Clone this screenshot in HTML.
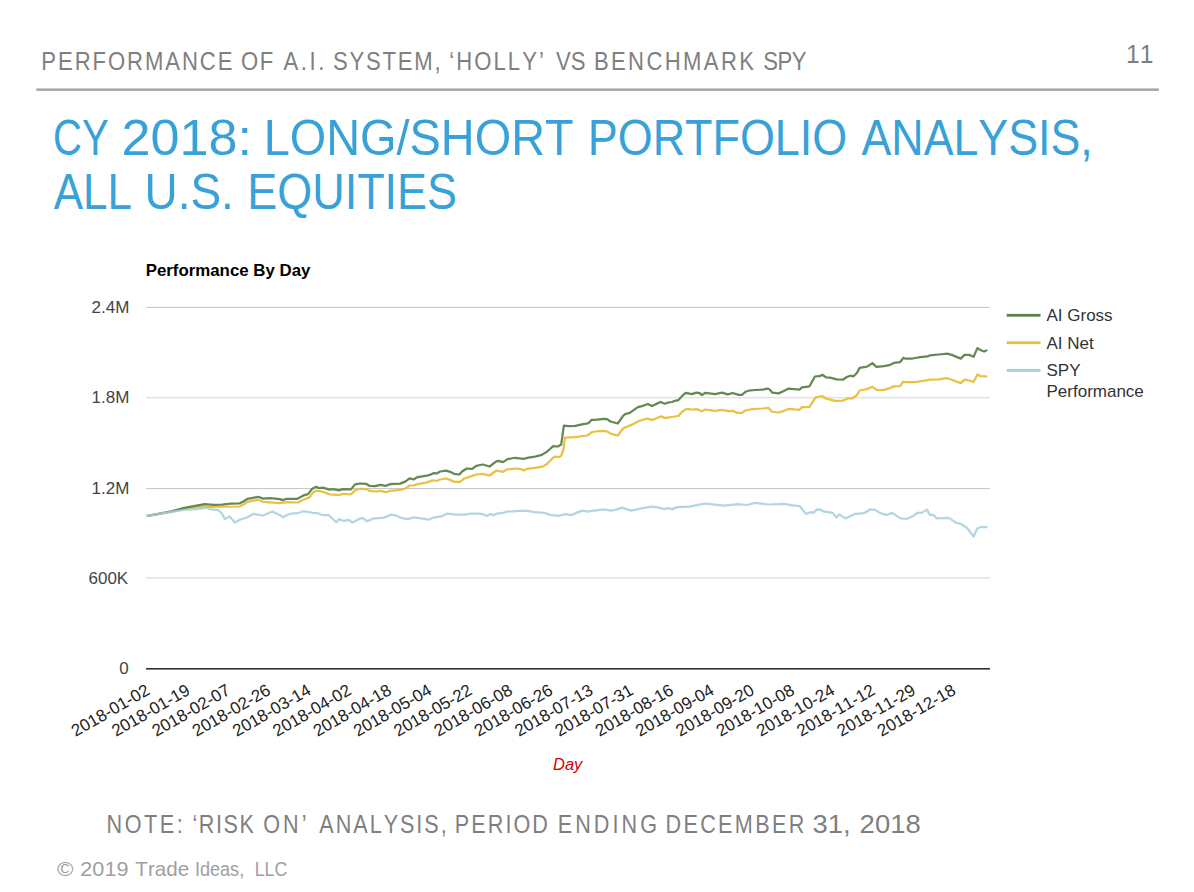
<!DOCTYPE html>
<html><head><meta charset="utf-8"><style>
html,body{margin:0;padding:0;background:#fff;width:1194px;height:892px;overflow:hidden}
svg{display:block;font-family:"Liberation Sans",sans-serif;font-kerning:none}
</style></head><body>
<svg width="1194" height="892" viewBox="0 0 1194 892">
<rect width="1194" height="892" fill="#fff"/>
<text transform="translate(41.29,70.00) scale(0.8400,1)" font-size="26.31" font-weight="normal" font-style="normal" fill="#7f7f7f" letter-spacing="2.306" >PERFORMANCE</text>
<text transform="translate(240.95,70.00) scale(0.8400,1)" font-size="26.31" font-weight="normal" font-style="normal" fill="#7f7f7f" letter-spacing="1.956" >OF</text>
<text transform="translate(283.56,70.00) scale(0.8400,1)" font-size="26.31" font-weight="normal" font-style="normal" fill="#7f7f7f" letter-spacing="3.016" >A.I.</text>
<text transform="translate(332.90,70.00) scale(0.8400,1)" font-size="26.31" font-weight="normal" font-style="normal" fill="#7f7f7f" letter-spacing="2.119" >SYSTEM,</text>
<text transform="translate(449.13,70.00) scale(0.8400,1)" font-size="26.31" font-weight="normal" font-style="normal" fill="#7f7f7f" letter-spacing="2.490" >‘HOLLY’</text>
<text transform="translate(556.10,70.00) scale(0.8400,1)" font-size="26.31" font-weight="normal" font-style="normal" fill="#7f7f7f" letter-spacing="-0.082" >VS</text>
<text transform="translate(593.89,70.00) scale(0.8400,1)" font-size="26.31" font-weight="normal" font-style="normal" fill="#7f7f7f" letter-spacing="2.821" >BENCHMARK</text>
<text transform="translate(763.30,70.00) scale(0.8400,1)" font-size="26.31" font-weight="normal" font-style="normal" fill="#7f7f7f" letter-spacing="-0.554" >SPY</text>
<text transform="translate(1126.03,62.60) scale(0.9567,1)" font-size="25.73" font-weight="normal" font-style="normal" fill="#7f7f7f" >11</text>
<rect x="36.3" y="88.4" width="1122.7" height="2.5" fill="#a6a6a6"/>
<text transform="translate(53.07,155.30) scale(0.7960,1)" font-size="50.29" font-weight="normal" font-style="normal" fill="#38a2d8" >CY</text>
<text transform="translate(121.58,155.30) scale(1.0368,1)" font-size="50.29" font-weight="normal" font-style="normal" fill="#38a2d8" >2018:</text>
<text transform="translate(263.65,155.30) scale(0.9327,1)" font-size="50.29" font-weight="normal" font-style="normal" fill="#38a2d8" >LONG/SHORT</text>
<text transform="translate(587.82,155.30) scale(0.8931,1)" font-size="50.29" font-weight="normal" font-style="normal" fill="#38a2d8" >PORTFOLIO</text>
<text transform="translate(861.51,155.30) scale(0.8898,1)" font-size="50.29" font-weight="normal" font-style="normal" fill="#38a2d8" >ANALYSIS,</text>
<text transform="translate(53.71,208.70) scale(0.8744,1)" font-size="50.29" font-weight="normal" font-style="normal" fill="#38a2d8" >ALL</text>
<text transform="translate(144.45,208.70) scale(0.9145,1)" font-size="50.29" font-weight="normal" font-style="normal" fill="#38a2d8" >U.S.</text>
<text transform="translate(247.31,208.70) scale(0.8936,1)" font-size="50.29" font-weight="normal" font-style="normal" fill="#38a2d8" >EQUITIES</text>
<text transform="translate(145.67,275.70) scale(1.0029,1)" font-size="16.80" font-weight="bold" font-style="normal" fill="#000" >Performance By Day</text>
<rect x="146" y="668.00" width="844" height="1.6" fill="#333333"/>
<text x="128.66" y="674.00" font-size="17" text-anchor="end" fill="#444">0</text>
<rect x="146" y="577.10" width="844" height="1.5" fill="#e2e2e2"/>
<text x="128.19" y="583.80" font-size="17" text-anchor="end" fill="#444">600K</text>
<rect x="146" y="488.00" width="844" height="1.1" fill="#c8c8c8"/>
<text x="129.39" y="493.80" font-size="17" text-anchor="end" fill="#444">1.2M</text>
<rect x="146" y="396.90" width="844" height="1.5" fill="#e2e2e2"/>
<text x="129.39" y="403.40" font-size="17" text-anchor="end" fill="#444">1.8M</text>
<rect x="146" y="306.90" width="844" height="1.1" fill="#c8c8c8"/>
<text x="129.39" y="312.60" font-size="17" text-anchor="end" fill="#444">2.4M</text>
<polyline points="147.7,515.8 160.0,513.6 172.2,511.6 184.3,508.9 204.4,506.4 208.0,506.8 239.5,506.5 243.6,504.5 247.6,501.8 257.6,499.8 263.0,501.8 269.7,502.4 280.0,503.1 286.7,502.1 298.1,502.5 303.5,499.8 309.5,497.4 313.5,492.1 316.9,490.7 322.9,491.8 329.6,494.4 339.0,495.1 343.0,493.8 351.0,494.4 355.0,490.4 360.0,488.8 366.7,489.1 369.4,490.8 376.1,491.5 380.1,490.8 386.1,492.2 390.2,490.8 400.2,489.8 405.6,488.5 409.6,485.5 413.6,485.3 417.6,484.1 427.0,482.4 432.4,480.4 437.1,480.8 440.0,479.5 446.0,478.5 450.1,479.9 454.7,481.9 460.1,481.9 464.1,478.5 469.5,476.9 476.2,474.5 482.9,473.8 489.6,475.5 496.3,470.5 503.0,471.8 507.0,469.5 513.7,468.7 515.0,468.5 521.0,469.1 523.7,470.5 527.1,468.8 535.1,467.8 543.1,466.4 547.2,463.8 552.5,458.4 554.5,456.7 559.2,457.1 561.2,455.7 563.6,449.0 565.0,437.6 575.3,437.1 582.0,436.1 587.4,435.5 591.4,432.4 595.0,431.5 603.0,430.8 607.1,431.5 611.1,433.9 617.8,435.5 623.1,428.5 625.8,427.2 635.2,423.1 639.2,420.8 647.3,418.5 652.0,420.1 655.3,418.8 661.3,416.4 665.4,418.1 670.0,417.1 675.0,416.5 678.4,415.9 681.7,412.2 686.4,408.8 691.8,409.5 697.1,409.2 701.8,411.2 705.2,409.5 715.2,410.8 721.9,409.8 728.6,411.2 732.6,410.8 737.3,412.9 742.0,412.9 745.4,410.5 750.0,409.5 755.0,408.8 763.1,408.5 768.5,407.8 771.8,411.5 778.5,412.5 783.3,411.2 788.6,408.8 799.4,409.8 802.1,407.1 809.5,406.8 815.6,397.4 822.3,396.0 826.3,398.7 835.0,400.8 838.4,400.8 842.4,400.8 848.4,398.3 852.2,398.5 856.9,395.2 859.6,390.5 867.0,389.1 872.4,386.8 877.1,390.1 883.8,389.8 889.2,388.4 893.9,386.4 900.0,386.1 903.3,381.7 905.0,382.0 916.3,382.0 927.6,380.1 929.9,379.7 938.9,379.4 947.2,378.2 951.7,379.7 960.8,383.1 964.5,379.7 969.1,380.5 973.6,382.0 977.4,374.5 981.1,376.4 986.4,376.4" fill="none" stroke="#e9be3a" stroke-opacity="0.95" stroke-width="2.25" stroke-linejoin="round" stroke-linecap="round"/>
<polyline points="147.7,515.8 160.0,513.6 172.2,511.2 184.3,507.8 204.7,504.1 213.4,504.9 222.1,504.7 230.8,503.6 239.5,503.5 242.9,501.8 247.6,498.8 252.9,497.8 258.3,496.8 263.0,498.6 269.7,498.1 280.0,499.1 282.7,500.1 286.7,498.8 297.4,498.8 303.5,495.4 308.1,494.1 312.2,488.7 316.2,486.7 318.9,488.1 322.9,487.7 329.6,489.7 332.9,489.2 339.0,490.4 343.0,489.1 351.0,489.4 355.0,484.4 360.0,483.5 366.0,483.8 369.4,485.8 375.4,486.1 380.1,484.9 386.1,485.8 390.2,484.1 400.2,483.6 405.6,481.4 409.6,478.4 413.6,479.4 417.6,477.1 427.0,475.7 431.0,474.4 433.7,473.1 437.1,473.4 440.0,471.5 446.0,470.7 450.1,471.8 454.1,473.8 459.4,474.5 462.1,471.5 466.8,468.5 472.2,468.8 476.2,465.8 482.9,464.5 489.6,466.5 496.3,461.4 498.3,460.8 503.0,462.1 507.7,459.1 513.7,458.0 515.0,457.9 523.7,458.8 528.4,457.6 535.1,456.6 541.8,454.9 547.2,451.5 553.2,446.2 557.9,446.5 561.2,444.5 563.9,425.7 568.6,426.1 575.3,425.9 582.0,424.4 586.0,423.7 588.7,423.1 591.4,419.9 595.0,419.8 603.7,418.8 607.1,419.1 610.4,421.5 617.8,423.5 623.1,415.8 625.2,414.1 629.8,412.8 637.9,407.1 641.9,406.1 647.9,404.0 652.0,406.1 655.3,404.4 660.7,402.0 664.7,403.7 668.7,402.4 672.1,402.0 675.0,400.8 678.4,400.1 681.7,396.4 685.7,392.8 691.8,394.1 696.4,392.6 699.8,393.1 701.8,395.1 705.2,392.8 715.2,394.1 721.9,392.6 727.9,394.4 732.6,393.0 738.7,394.8 742.0,394.8 745.4,391.8 748.7,390.7 755.0,390.0 763.1,389.7 766.4,388.6 769.1,389.0 772.5,392.7 778.5,393.4 783.3,391.3 788.6,388.6 799.4,389.7 802.1,387.3 809.5,386.3 814.9,376.5 819.6,376.2 822.3,374.8 826.3,377.5 830.0,377.7 836.7,379.4 842.8,379.7 846.8,377.0 850.2,375.7 853.5,376.3 856.9,373.0 859.6,367.9 867.0,366.6 872.4,363.2 876.4,366.9 883.8,366.2 889.2,365.2 893.9,362.9 900.0,362.2 903.3,357.8 905.0,358.5 912.5,358.5 920.1,357.1 927.6,356.4 929.9,355.3 938.9,354.5 947.2,353.7 951.7,354.9 960.8,358.6 964.5,354.9 969.1,354.9 973.6,356.8 977.4,348.1 980.4,350.0 984.1,351.5 986.4,350.4" fill="none" stroke="#5d824c" stroke-opacity="0.95" stroke-width="2.25" stroke-linejoin="round" stroke-linecap="round"/>
<polyline points="147.7,515.8 160.0,513.6 172.2,511.6 184.3,510.0 200.0,509.0 204.5,507.8 206.0,507.5 209.4,509.1 218.1,510.2 221.4,512.8 224.8,518.9 229.5,516.5 234.8,522.5 240.2,519.5 246.9,517.5 253.6,513.8 263.0,515.5 272.4,511.5 280.0,515.2 282.7,517.2 289.4,513.9 297.4,513.2 303.5,511.2 312.8,512.9 317.5,513.2 322.9,515.2 328.9,515.2 336.3,522.2 339.0,519.2 343.7,520.9 349.0,519.8 352.4,522.6 360.0,518.6 363.0,518.1 367.0,521.3 373.1,518.6 384.1,517.6 391.2,514.6 396.2,515.6 400.2,517.6 407.2,519.1 414.3,517.3 422.3,518.6 429.3,519.6 433.4,517.6 442.4,516.1 447.4,513.6 456.5,514.6 464.5,514.6 470.6,513.6 480.0,513.6 484.0,514.6 487.0,516.1 490.1,513.9 493.1,515.1 497.1,513.6 504.1,512.6 507.1,511.6 520.2,510.9 528.2,510.9 534.3,512.1 544.3,512.9 550.4,514.9 558.4,515.9 565.4,514.1 571.5,515.1 576.5,512.9 582.5,510.6 587.5,511.6 592.6,510.6 595.0,510.6 603.0,509.3 611.1,510.6 616.1,509.6 622.1,507.6 631.2,510.6 640.2,508.6 651.3,506.6 659.3,507.6 664.3,509.1 667.4,508.1 672.4,509.1 677.4,507.1 689.5,506.6 699.5,504.6 705.6,503.6 715.0,504.6 724.1,505.7 738.3,504.2 746.9,505.0 755.4,502.8 768.2,504.5 783.9,503.8 792.5,505.4 799.6,506.0 806.0,513.9 811.0,512.1 813.8,512.8 816.8,509.6 819.8,509.3 823.6,511.4 832.6,512.9 836.4,517.5 839.4,514.4 845.4,518.4 855.2,513.8 862.0,513.4 865.8,512.3 870.3,509.3 874.9,509.9 880.9,513.4 886.9,514.9 892.2,512.9 900.5,518.4 906.5,519.0 912.6,516.4 917.1,512.9 921.6,512.9 926.9,509.6 929.9,514.9 933.7,514.9 936.7,518.4 948.8,517.9 956.3,522.9 960.8,523.9 966.9,527.7 973.6,536.5 977.4,528.5 980.4,527.0 986.5,527.0" fill="none" stroke="#a5cfdc" stroke-opacity="0.85" stroke-width="2.25" stroke-linejoin="round" stroke-linecap="round"/>
<text transform="translate(150.90,693.60) rotate(-30)" font-size="17" text-anchor="end" fill="#222">2018-01-02</text>
<text transform="translate(191.20,693.60) rotate(-30)" font-size="17" text-anchor="end" fill="#222">2018-01-19</text>
<text transform="translate(231.50,693.60) rotate(-30)" font-size="17" text-anchor="end" fill="#222">2018-02-07</text>
<text transform="translate(271.80,693.60) rotate(-30)" font-size="17" text-anchor="end" fill="#222">2018-02-26</text>
<text transform="translate(312.10,693.60) rotate(-30)" font-size="17" text-anchor="end" fill="#222">2018-03-14</text>
<text transform="translate(352.40,693.60) rotate(-30)" font-size="17" text-anchor="end" fill="#222">2018-04-02</text>
<text transform="translate(392.70,693.60) rotate(-30)" font-size="17" text-anchor="end" fill="#222">2018-04-18</text>
<text transform="translate(433.00,693.60) rotate(-30)" font-size="17" text-anchor="end" fill="#222">2018-05-04</text>
<text transform="translate(473.30,693.60) rotate(-30)" font-size="17" text-anchor="end" fill="#222">2018-05-22</text>
<text transform="translate(513.60,693.60) rotate(-30)" font-size="17" text-anchor="end" fill="#222">2018-06-08</text>
<text transform="translate(553.90,693.60) rotate(-30)" font-size="17" text-anchor="end" fill="#222">2018-06-26</text>
<text transform="translate(594.20,693.60) rotate(-30)" font-size="17" text-anchor="end" fill="#222">2018-07-13</text>
<text transform="translate(634.50,693.60) rotate(-30)" font-size="17" text-anchor="end" fill="#222">2018-07-31</text>
<text transform="translate(674.80,693.60) rotate(-30)" font-size="17" text-anchor="end" fill="#222">2018-08-16</text>
<text transform="translate(715.10,693.60) rotate(-30)" font-size="17" text-anchor="end" fill="#222">2018-09-04</text>
<text transform="translate(755.40,693.60) rotate(-30)" font-size="17" text-anchor="end" fill="#222">2018-09-20</text>
<text transform="translate(795.70,693.60) rotate(-30)" font-size="17" text-anchor="end" fill="#222">2018-10-08</text>
<text transform="translate(836.00,693.60) rotate(-30)" font-size="17" text-anchor="end" fill="#222">2018-10-24</text>
<text transform="translate(876.30,693.60) rotate(-30)" font-size="17" text-anchor="end" fill="#222">2018-11-12</text>
<text transform="translate(916.60,693.60) rotate(-30)" font-size="17" text-anchor="end" fill="#222">2018-11-29</text>
<text transform="translate(956.90,693.60) rotate(-30)" font-size="17" text-anchor="end" fill="#222">2018-12-18</text>
<text transform="translate(553.09,769.60) scale(0.9685,1)" font-size="17.00" font-weight="normal" font-style="italic" fill="#d60000" >Day</text>
<rect x="1006.7" y="313.90" width="33.8" height="2.8" fill="#5d824c"/>
<text x="1046.5" y="320.8" font-size="17" fill="#333">AI Gross</text>
<rect x="1006.7" y="341.30" width="33.8" height="2.8" fill="#e9be3a"/>
<text x="1046.5" y="348.6" font-size="17" fill="#333">AI Net</text>
<rect x="1006.7" y="369.00" width="33.8" height="2.8" fill="#a5cfdc"/>
<text x="1046.5" y="375.6" font-size="17" fill="#333">SPY</text>
<text x="1046.5" y="397.4" font-size="17" fill="#333">Performance</text>
<text transform="translate(106.43,832.80) scale(0.8400,1)" font-size="25.73" font-weight="normal" font-style="normal" fill="#7f7f7f" letter-spacing="3.098" >NOTE:</text>
<text transform="translate(192.46,832.80) scale(0.8400,1)" font-size="25.73" font-weight="normal" font-style="normal" fill="#7f7f7f" letter-spacing="1.828" >‘RISK</text>
<text transform="translate(263.18,832.80) scale(0.8400,1)" font-size="25.73" font-weight="normal" font-style="normal" fill="#7f7f7f" letter-spacing="3.658" >ON’</text>
<text transform="translate(319.36,832.80) scale(0.8400,1)" font-size="25.73" font-weight="normal" font-style="normal" fill="#7f7f7f" letter-spacing="2.333" >ANALYSIS,</text>
<text transform="translate(454.83,832.80) scale(0.8400,1)" font-size="25.73" font-weight="normal" font-style="normal" fill="#7f7f7f" letter-spacing="2.441" >PERIOD</text>
<text transform="translate(557.63,832.80) scale(0.8400,1)" font-size="25.73" font-weight="normal" font-style="normal" fill="#7f7f7f" letter-spacing="3.676" >ENDING</text>
<text transform="translate(665.53,832.80) scale(0.8400,1)" font-size="25.73" font-weight="normal" font-style="normal" fill="#7f7f7f" letter-spacing="2.771" >DECEMBER</text>
<text transform="translate(812.46,832.80) scale(1.0655,1)" font-size="25.73" font-weight="normal" font-style="normal" fill="#7f7f7f" >31,</text>
<text transform="translate(859.62,832.80) scale(1.0689,1)" font-size="25.73" font-weight="normal" font-style="normal" fill="#7f7f7f" >2018</text>
<text transform="translate(56.96,875.50) scale(1.0551,1)" font-size="21.08" font-weight="normal" font-style="normal" fill="#a0a0a0" >©</text>
<text transform="translate(80.31,875.50) scale(1.0284,1)" font-size="21.08" font-weight="normal" font-style="normal" fill="#a0a0a0" >2019</text>
<text transform="translate(135.34,875.50) scale(0.9768,1)" font-size="21.08" font-weight="normal" font-style="normal" fill="#a0a0a0" >Trade</text>
<text transform="translate(194.93,875.50) scale(0.8586,1)" font-size="21.08" font-weight="normal" font-style="normal" fill="#a0a0a0" >Ideas,</text>
<text transform="translate(254.75,875.50) scale(0.8414,1)" font-size="21.08" font-weight="normal" font-style="normal" fill="#a0a0a0" >LLC</text>
</svg>
</body></html>
